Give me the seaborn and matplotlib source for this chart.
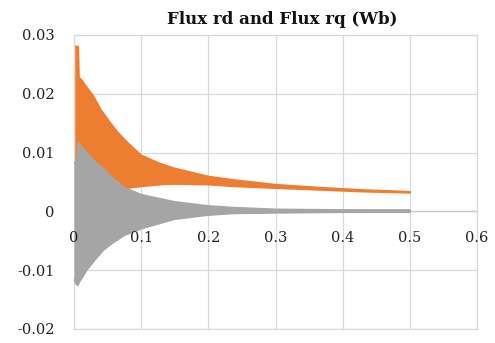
import matplotlib
matplotlib.use("Agg")
import matplotlib.pyplot as plt
import numpy as np
import pandas as pd
import seaborn as sns

# Envelope of the rapidly oscillating rotor flux components (Wb) versus time (s)
t_rd = [0.001, 0.006, 0.007, 0.012, 0.018, 0.028, 0.040, 0.054, 0.065, 0.079,
        0.100, 0.128, 0.149, 0.200, 0.238, 0.300, 0.366, 0.430, 0.500]
flux_rd_upper = [0.0280, 0.0280, 0.0228, 0.0222, 0.0212, 0.0197, 0.0172, 0.0150, 0.0134, 0.0117,
                 0.0095, 0.0081, 0.0073, 0.0059, 0.0053, 0.0045, 0.0040, 0.0036, 0.0033]
flux_rd_lower = [0.0030, 0.0030, 0.0030, 0.0031, 0.0032, 0.0033, 0.0034, 0.0036, 0.0037, 0.0040,
                 0.0043, 0.0046, 0.0047, 0.0046, 0.0043, 0.0040, 0.0037, 0.0034, 0.0032]

t_rq = [0.000, 0.005, 0.006, 0.0075, 0.012, 0.019, 0.031, 0.043, 0.054, 0.075,
        0.100, 0.149, 0.198, 0.238, 0.300, 0.400, 0.500]
flux_rq_upper = [0.0082, 0.0084, 0.0110, 0.0116, 0.0108, 0.0099, 0.0084, 0.0073, 0.0060, 0.0040,
                 0.0028, 0.0016, 0.0009, 0.0006, 0.0003, 0.0002, 0.0002]
flux_rq_lower = [-0.0115, -0.0125, -0.0124, -0.0120, -0.0112, -0.0099, -0.0082, -0.0066, -0.0056, -0.0040,
                 -0.0029, -0.0013, -0.0006, -0.0003, -0.0002, -0.0001, -0.0001]

x_ticks = [0, 0.1, 0.2, 0.3, 0.4, 0.5, 0.6]
x_labels = ["0", "0.1", "0.2", "0.3", "0.4", "0.5", "0.6"]
y_ticks = [-0.02, -0.01, 0, 0.01, 0.02, 0.03]
y_labels = ["-0.02", "-0.01", "0", "0.01", "0.02", "0.03"]
title = "Flux rd and Flux rq (Wb)"

ORANGE = "#ED7D31"
GRAY = "#A5A5A5"
GRID = "#D9D9D9"

sns.set_theme(style="white")
plt.rcParams["font.family"] = ["DejaVu Serif"]

W, H = 495, 343
fig = plt.figure(figsize=(W / 100, H / 100), dpi=100)
pos = [74 / W, 14 / H, 403 / W, 294 / H]

# Main axes: gridlines below the data
ax = fig.add_axes(pos)
ax.set_axisbelow(True)
ax.set_xlim(x_ticks[0], x_ticks[-1])
ax.set_ylim(y_ticks[0], y_ticks[-1])
ax.set_xticks(x_ticks)
ax.set_yticks(y_ticks)
ax.grid(True, color=GRID, linewidth=0.9)
ax.tick_params(labelbottom=False, labelleft=False, length=0)
for sp in ax.spines.values():
    sp.set_color(GRID)
    sp.set_linewidth(0.9)
ax.axhline(0, color="#C8C8C8", linewidth=0.9, zorder=0.6)

rd = pd.DataFrame({"t": t_rd, "upper": flux_rd_upper, "lower": flux_rd_lower})
rq = pd.DataFrame({"t": t_rq, "upper": flux_rq_upper, "lower": flux_rq_lower})

for df, color, z in [(rd, ORANGE, 2), (rq, GRAY, 3)]:
    ax.fill_between(df["t"], df["lower"], df["upper"], color=color, linewidth=0, zorder=z)
    for col in ["upper", "lower"]:
        sns.lineplot(data=df, x="t", y=col, ax=ax, color=color, linewidth=1.6,
                     zorder=z, estimator=None, legend=False)
ax.set_xlabel("")
ax.set_ylabel("")

# Overlay axes carrying the tick labels above the data
ax2 = fig.add_axes(pos, sharex=ax, sharey=ax, label="labels")
ax2.patch.set_alpha(0)
ax2.grid(False)
for sp in ax2.spines.values():
    sp.set_visible(False)
ax2.spines["bottom"].set_position(("data", 0))
ax2.set_xticks(x_ticks, x_labels)
ax2.set_yticks(y_ticks, y_labels)
ax2.tick_params(axis="x", length=0, pad=14, labelsize=10.5, labelcolor="#222222")
ax2.tick_params(axis="y", length=0, pad=14, labelsize=10.5, labelcolor="#222222")
ax2.set_xlabel("")
ax2.set_ylabel("")

fig.text(282 / W, 1 - 19 / H, title, ha="center", va="center",
         fontsize=12, fontweight="bold", color="#111111")

fig.savefig("out.png", dpi=100)
